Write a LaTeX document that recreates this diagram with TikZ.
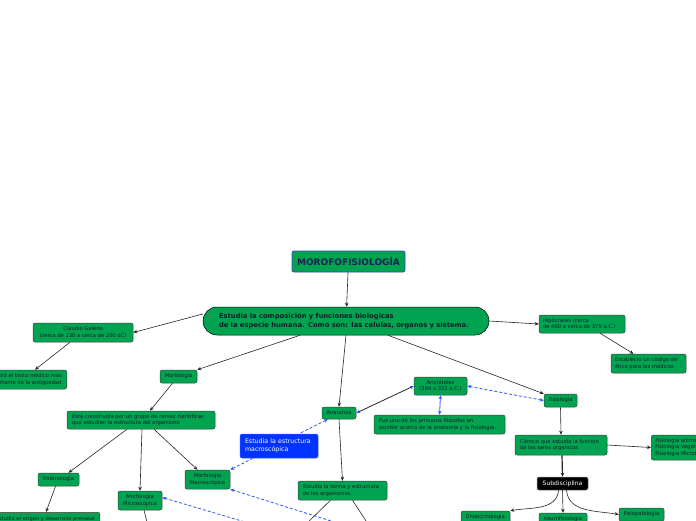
\documentclass[tikz,border=0pt]{standalone}
\usepackage{fontspec}
\setmainfont{DejaVu Sans}
\usetikzlibrary{arrows.meta}
\definecolor{mgreen}{RGB}{0,163,80}
\definecolor{mblue}{RGB}{0,51,255}
\definecolor{dblue}{RGB}{45,90,255}
\definecolor{ink}{RGB}{20,30,40}
\definecolor{navy}{RGB}{25,35,80}
\begin{document}
\begin{tikzpicture}[x=1pt,y=-1pt,
  box/.style={draw=black!75, fill=mgreen, rounded corners=2pt, line width=0.5pt,
    font=\fontsize{5.2}{6.4}\selectfont, text=ink, inner sep=0pt, align=center},
  lbox/.style={box, align=left},
  arr/.style={draw=black!85, line width=0.6pt, -{Stealth[length=4pt,width=3.5pt]}},
  plain/.style={draw=black!85, line width=0.6pt},
  dsh/.style={draw=dblue, line width=0.8pt, dash pattern=on 3pt off 2pt},
  btip/.style={{Stealth[length=4pt,width=3.5pt,dblue]}-{Stealth[length=4pt,width=3.5pt,dblue]}}
]
\clip (0,0) rectangle (696,520);
\fill[white] (0,0) rectangle (696,520);

% nodes
\node[box, draw=blue!45!gray, line width=0.8pt, minimum width=113pt, minimum height=21pt,
  font=\fontsize{9}{11}\bfseries, text=navy] (title) at (348.5,261.5) {MOROFOFISIOLOGÍA};
\node[lbox, draw=black, rounded corners=14pt, text width=254pt, inner xsep=16pt,
  minimum height=28pt, font=\fontsize{6.8}{8.2}\bfseries] (main) at (346,321)
  {Estudia la composición y funciones biologicas\\de la especie humana. Como son: las celulas, organos y sistema.};

\node[box, minimum width=100pt, minimum height=19pt] (galeno) at (83,332.5)
  {Claudio Galeno\\(cerca de 130 a cerca de 200 dC)};
\node[box, anchor=east, inner xsep=5pt, minimum height=19pt] (escribio) at (67,379.5)
  {Escribió el texto médico más\\importante de la antigüedad};

\node[lbox, text width=78pt, inner xsep=4pt, minimum height=18pt] (hipo) at (582,324)
  {Hipócrates (cerca\\de 460 a cerca de 375 a.C.)};
\node[lbox, text width=67pt, inner xsep=4pt, minimum height=19pt] (etica) at (648.5,363.5)
  {Establecio un código de\\ética para los médicos};

\node[box, minimum width=37pt, minimum height=13pt] (morfo) at (178.5,376.5) {Morfologia};
\node[lbox, text width=138pt, inner xsep=5pt, minimum height=18pt] (esta) at (141,420)
  {Está constituida por un grupo de ramas cientificas\\que estudian la estructura del organismo};

\node[box, minimum width=34pt, minimum height=12pt] (anat) at (339,413) {Anatomia};
\node[box, minimum width=53pt, minimum height=18pt] (aris) at (440.5,386)
  {Aristóteles\\(384 a 322 a.C.)};
\node[lbox, text width=121pt, inner xsep=5pt, minimum height=19pt] (fue) at (439.5,424.5)
  {Fue uno de los primeros filósofos en\\escribir acerca de la anatomia y la fisiologia.};

\node[box, minimum width=33pt, minimum height=13pt] (fisio) at (560.5,400.5) {Fisiologia};
\node[lbox, text width=82pt, inner xsep=5pt, minimum height=20pt] (ciencia) at (561,445)
  {Ciencia que estudia la funcion\\de los seres organicos};
\node[lbox, anchor=west, inner xsep=4pt, minimum height=25pt] (tipos) at (651,447.5)
  {Fisiologia animal\\Fisiologia Vegetal\\Fisiologia Microbiana};

\node[lbox, draw=mblue!80!white, fill=mblue, text=white, text width=68pt, inner xsep=5pt,
  minimum height=24pt, font=\fontsize{6.3}{8.4}\selectfont] (macroest) at (279,446)
  {Estudia la estructura\\macroscópica};

\node[box, minimum width=41pt, minimum height=13pt] (embrio) at (58.5,479.5) {Embriologia};
\node[box, anchor=north east, inner xsep=5pt, minimum height=14pt] (origen) at (100,512)
  {Estudia el origen y desarrollo prenatal};
\node[box, minimum width=44pt, minimum height=19pt] (micro) at (140,500.5)
  {Morfologia\\Microscópica};
\node[box, minimum width=45pt, minimum height=19pt] (macro) at (207.5,479.5)
  {Morfologia\\Macroscópica};
\node[lbox, text width=79pt, inner xsep=5pt, minimum height=19pt] (forma) at (342.5,490.5)
  {Estudia la forma y estructura\\de los organismos.};

\node[box, fill=black, draw=gray, text=white, minimum width=51pt, minimum height=13pt,
  font=\fontsize{6}{7}\selectfont] (subd) at (562.5,483.5) {Subdisciplina};
\node[box, minimum width=49pt, minimum height=13pt] (endo) at (485.5,517.5) {Endocrinologia};
\node[box, minimum width=48pt, minimum height=13pt] (neum) at (563,519.5) {neumfisiologia};
\node[box, minimum width=45pt, minimum height=13pt] (fpat) at (641.5,514.5) {Fisiopatologia};

% free ends below the picture
\coordinate (c1) at (149,530);
\coordinate (c2) at (300,530);
\coordinate (c3) at (372,530);
\coordinate (c4) at (350,527);
\coordinate (c5) at (262,527);

% solid connectors
\draw[arr] (title) -- (main);
\draw[arr] ([yshift=7pt]main.west) -- (galeno.east);
\draw[arr] ([xshift=-13pt]galeno.south) -- ([xshift=-32pt]escribio.north east);
\draw[arr] (main.east) -- (hipo.west);
\draw[arr] ([xshift=18pt]hipo.south) -- ([xshift=-15pt]etica.north);
\draw[arr] ([xshift=-46pt]main.south) -- (morfo.north east);
\draw[arr] (main.south) -- (anat.north);
\draw[arr] ([xshift=42pt]main.south) -- (fisio.north west);
\draw[arr] ([xshift=-6pt]morfo.south) -- ([xshift=9pt]esta.north);
\draw[arr] ([xshift=-14pt]esta.south) -- ([xshift=10pt]embrio.north);
\draw[arr] ([xshift=1pt]esta.south) -- (micro.north);
\draw[arr] ([xshift=13pt]esta.south) -- ([xshift=-10pt]macro.north);
\draw[arr] ([xshift=-3pt]embrio.south) -- ([xshift=-54pt]origen.north east);
\draw[plain] ([xshift=4pt]micro.south) -- (c1);
\draw[arr] (anat.south) -- (forma.north);
\draw[plain] ([xshift=-12pt]forma.south) -- (c2);
\draw[plain] ([xshift=10pt]forma.south) -- (c3);
\draw[arr] (fisio.south) -- (ciencia.north);
\draw[arr] (ciencia.east) -- (tipos.west);
\draw[arr, line width=1.2pt] ([xshift=1pt]ciencia.south) -- (subd.north);
\draw[arr] ([xshift=-4pt]subd.south) to[out=-95,in=10] (endo.north east);
\draw[arr] (subd.south) -- (neum.north);
\draw[arr] ([xshift=4pt]subd.south) to[out=-85,in=170] (fpat.west);

% associations
\draw[plain, line width=0.8pt, btip] (anat.east) -- (aris.west);
\draw[draw=dblue, line width=0.8pt, btip] (aris.south) -- (fue.north);
\draw[dsh, btip] (aris.east) -- (fisio.west);
\draw[dsh, {Stealth[length=4pt,width=3.5pt,dblue]}-] ([xshift=-11pt]anat.south) -- ([xshift=20pt]macroest.north);
\draw[dsh, -{Stealth[length=4pt,width=3.5pt,dblue]}] ([xshift=-26pt]macroest.south) -- (macro.north east);
\draw[dsh, {Stealth[length=4pt,width=3.5pt,dblue]}-] (macro.south east) -- (c4);
\draw[dsh, {Stealth[length=4pt,width=3.5pt,dblue]}-] ([yshift=3pt]micro.east) -- (c5);
\end{tikzpicture}
\end{document}
